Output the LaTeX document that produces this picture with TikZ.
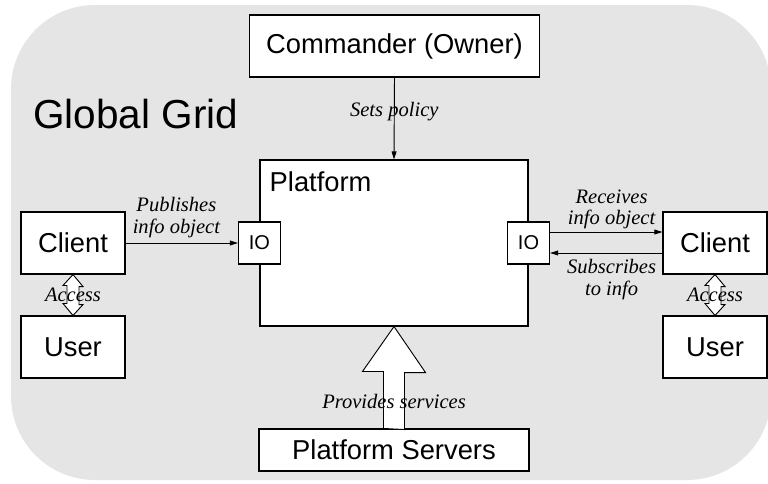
\documentclass[tikz,border=0pt]{standalone}
\usepackage{fontspec}
\setmainfont{Liberation Serif}
\newfontfamily\arialfont{Liberation Sans}
\usetikzlibrary{arrows.meta}
\definecolor{gridgray}{RGB}{229,229,229}
\begin{document}
\begin{tikzpicture}[x=0.75pt,y=-0.75pt,
  box/.style={draw,fill=white,line width=0.8pt,inner sep=0pt,font=\arialfont\fontsize{20.5}{24}\selectfont},
  iobox/.style={box,minimum size=31.5pt,font=\arialfont\fontsize{15}{18}\selectfont},
  lbl/.style={font=\itshape\fontsize{15.4}{16.2}\selectfont,align=center,inner sep=1pt},
  arr/.style={line width=0.7pt,-{Triangle[length=6pt,width=3.6pt]}},
  fat/.style={draw,fill=white,line width=0.7pt}]
\useasboundingbox (0,0) rectangle (768,483);
\begin{scope}
\clip (0,0) rectangle (768,483);
\fill[gridgray,rounded corners=63pt] (11,5) rectangle (771,480);
\end{scope}
\node[anchor=base west,inner sep=0pt,font=\arialfont\fontsize{30.4}{34}\selectfont] (gg) at (33,128) {Global Grid};
% boxes
\node[box,minimum width=217.5pt,minimum height=46.5pt] (cmd) at (394.5,46) {Commander (Owner)};
\node[box,minimum width=201pt,minimum height=124.5pt] (pf) at (394,243) {};
\node[anchor=base west,inner sep=0pt,font=\arialfont\fontsize{20.5}{24}\selectfont] (pft) at ([shift={(10,32)}]pf.north west) {Platform};
\node[iobox] (iol) at (pf.west) {IO};
\node[iobox] (ior) at (pf.east) {IO};
\node[box,minimum width=78pt,minimum height=46.5pt] (cl) at (73,243) {Client};
\node[box,minimum width=78pt,minimum height=46.5pt] (ul) at (73,347) {User};
\node[box,minimum width=78pt,minimum height=46.5pt] (cr) at (715,243) {Client};
\node[box,minimum width=78pt,minimum height=46.5pt] (ur) at (715,347) {User};
\node[box,minimum width=202.5pt,minimum height=31.5pt] (srv) at (394,450) {Platform Servers};
% connectors
\draw[arr] (cmd.south) -- (pf.north);
\draw[arr] (cl) -- (iol);
\draw[arr] ([yshift=8.25pt]ior.east) -- ([yshift=8.25pt]cr.west);
\draw[arr] ([yshift=-7.5pt]cr.west) -- ([yshift=-7.5pt]ior.east);
\foreach \a/\b in {cl/ul,cr/ur}
  \draw[fat] (\a.south) -- ++(10,12) -- ++(-4,0) -- ++(0,18) -- ++(4,0) -- (\b.north)
    -- ++(-10,-12) -- ++(4,0) -- ++(0,-18) -- ++(-4,0) -- cycle;
\draw[fat] (srv.north) ++(-10.5,0) -- ++(0,-57) -- ++(-21,0) -- (pf.south) -- ++(31.5,46)
  -- ++(-21,0) -- ++(0,57) -- cycle;
% labels
\path (cmd.south) -- node[lbl,pos=0.42] {Sets policy} (pf.north);
\path (cl.east) -- node[lbl,above=3pt,xshift=-4pt] {Publishes\\info object} (iol.west);
\path ([yshift=8.25pt]ior.east) -- node[lbl,above=1pt,xshift=4pt] {Receives\\info object} ([yshift=8.25pt]cr.west);
\path ([yshift=-7.5pt]cr.west) -- node[lbl,below=3.5pt,xshift=4pt] {Subscribes\\to info} ([yshift=-7.5pt]ior.east);
\path (cl.south) -- node[lbl] {Access} (ul.north);
\path (cr.south) -- node[lbl] {Access} (ur.north);
\path (srv.north) -- node[lbl,pos=0.26] {Provides services} (pf.south);
\end{tikzpicture}
\end{document}
